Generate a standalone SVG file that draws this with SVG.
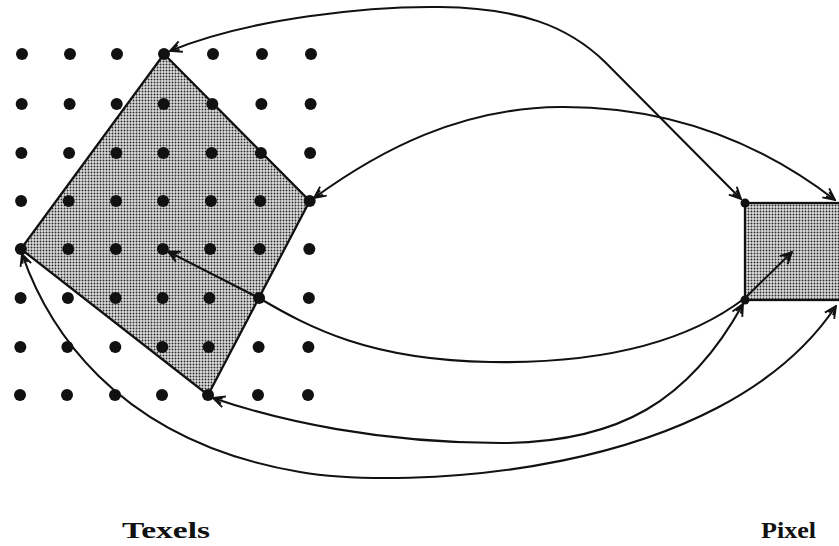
<svg xmlns="http://www.w3.org/2000/svg" width="839" height="546" viewBox="0 0 839 546">
  <defs>
    <pattern id="stipple" width="3" height="3" patternUnits="userSpaceOnUse">
      <rect width="3" height="3" fill="#dedede"/>
      <circle cx="1.5" cy="1.5" r="0.95" fill="#2a2a2a"/>
    </pattern>
    <marker id="arr" viewBox="0 0 12 12" refX="11" refY="6" markerWidth="14" markerHeight="14" markerUnits="userSpaceOnUse" orient="auto-start-reverse">
      <path d="M1,1.2 L11,6 L1,10.8 M3,3.8 L11,6 L3,8.2" fill="none" stroke="#111" stroke-width="1.6" stroke-linejoin="miter"/>
    </marker>
  </defs>
  <style>
    .dot { fill: #111; }
    .shape { fill: url(#stipple); stroke: #111; stroke-width: 2.3; stroke-linejoin: miter; }
    .conn { fill: none; stroke: #111; stroke-width: 2.1; marker-start: url(#arr); marker-end: url(#arr); }
    .label { font-family: "Liberation Serif", "Times New Roman", serif; font-weight: bold; font-size: 24px; fill: #111; }
  </style>
  <rect width="839" height="546" fill="#ffffff"/>

  <g id="texel-footprint">
    <polygon class="shape" points="164,54 309.7,201 208,395 20.9,249"/>
  </g>

  <g id="pixel">
    <rect class="shape" x="745" y="203" width="110" height="97"/>
    <circle class="dot" cx="745" cy="203" r="4.5"/>
    <circle class="dot" cx="745" cy="300" r="4.5"/>
  </g>

  <g id="texel-grid">
    <circle class="dot" cx="22" cy="54" r="6"/><circle class="dot" cx="70" cy="54" r="6"/><circle class="dot" cx="117" cy="54" r="6"/><circle class="dot" cx="164" cy="54" r="6"/><circle class="dot" cx="213" cy="54" r="6"/><circle class="dot" cx="262" cy="54" r="6"/><circle class="dot" cx="311" cy="54" r="6"/>
    <circle class="dot" cx="21.7" cy="104" r="6"/><circle class="dot" cx="69.6" cy="104" r="6"/><circle class="dot" cx="116.7" cy="104" r="6"/><circle class="dot" cx="163.7" cy="104" r="6"/><circle class="dot" cx="212.3" cy="104" r="6"/><circle class="dot" cx="261.4" cy="104" r="6"/><circle class="dot" cx="310.6" cy="104" r="6"/>
    <circle class="dot" cx="21.4" cy="153" r="6"/><circle class="dot" cx="69.1" cy="153" r="6"/><circle class="dot" cx="116.4" cy="153" r="6"/><circle class="dot" cx="163.4" cy="153" r="6"/><circle class="dot" cx="211.6" cy="153" r="6"/><circle class="dot" cx="260.9" cy="153" r="6"/><circle class="dot" cx="310.1" cy="153" r="6"/>
    <circle class="dot" cx="21.1" cy="201" r="6"/><circle class="dot" cx="68.7" cy="201" r="6"/><circle class="dot" cx="116.1" cy="201" r="6"/><circle class="dot" cx="163.1" cy="201" r="6"/><circle class="dot" cx="210.9" cy="201" r="6"/><circle class="dot" cx="260.3" cy="201" r="6"/><circle class="dot" cx="309.7" cy="201" r="6"/>
    <circle class="dot" cx="20.9" cy="249" r="6"/><circle class="dot" cx="68.3" cy="249" r="6"/><circle class="dot" cx="115.9" cy="249" r="6"/><circle class="dot" cx="162.9" cy="249" r="6"/><circle class="dot" cx="210.1" cy="249" r="6"/><circle class="dot" cx="259.7" cy="249" r="6"/><circle class="dot" cx="309.3" cy="249" r="6"/>
    <circle class="dot" cx="20.6" cy="298" r="6"/><circle class="dot" cx="67.9" cy="298" r="6"/><circle class="dot" cx="115.6" cy="298" r="6"/><circle class="dot" cx="162.6" cy="298" r="6"/><circle class="dot" cx="209.4" cy="298" r="6"/><circle class="dot" cx="259.1" cy="298" r="6"/><circle class="dot" cx="308.9" cy="298" r="6"/>
    <circle class="dot" cx="20.3" cy="347" r="6"/><circle class="dot" cx="67.4" cy="347" r="6"/><circle class="dot" cx="115.3" cy="347" r="6"/><circle class="dot" cx="162.3" cy="347" r="6"/><circle class="dot" cx="208.7" cy="347" r="6"/><circle class="dot" cx="258.6" cy="347" r="6"/><circle class="dot" cx="308.4" cy="347" r="6"/>
    <circle class="dot" cx="20" cy="395" r="6"/><circle class="dot" cx="67" cy="395" r="6"/><circle class="dot" cx="115" cy="395" r="6"/><circle class="dot" cx="162" cy="395" r="6"/><circle class="dot" cx="208" cy="395" r="6"/><circle class="dot" cx="258" cy="395" r="6"/><circle class="dot" cx="308" cy="395" r="6"/>
  </g>

  <g id="connectors">
    <path class="conn" d="M170,51 C250,18 370,6 440,7 C520,8 568,26 605,62 L741,199"/>
    <path class="conn" d="M314,198 C380,150 460,108 560,107 C680,106 770,150 835,200"/>
    <path class="conn" d="M792,252 L745,298 C690,340 610,364 490,362 C370,360 310,328 259,298 L168,251.5"/>
    <path class="conn" d="M213,398 C280,421 380,443 500,443 C620,443 690,400 743,304"/>
    <path class="conn" d="M22,254 C45,320 110,440 300,472 C400,489 720,480 836,306"/>
  </g>

  <g id="labels">
    <text class="label" x="122" y="538" textLength="88" lengthAdjust="spacingAndGlyphs">Texels</text>
    <text class="label" x="761" y="538" textLength="55" lengthAdjust="spacingAndGlyphs">Pixel</text>
  </g>
</svg>
